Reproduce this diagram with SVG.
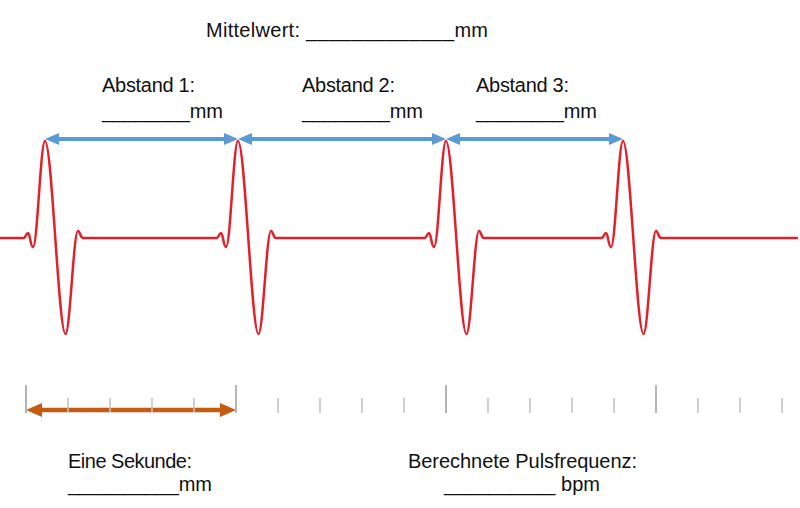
<svg xmlns="http://www.w3.org/2000/svg" width="800" height="508" viewBox="0 0 800 508">
  <style>
    .t { font-family: "Liberation Sans", Arial, sans-serif; font-size: 20px; fill: #111; }
    .ecg { fill: none; stroke: #E3202A; stroke-width: 2.5; stroke-linejoin: round; stroke-linecap: round; }
    .blue { stroke: #5B9BD5; stroke-width: 4; fill: none; }
    .orange { stroke: #C55A11; stroke-width: 4.5; fill: none; }
    .tick { stroke: #C4C4C4; stroke-width: 1.6; }
    .tickl { stroke: #ADADAD; stroke-width: 1.8; }
  </style>
  <defs>
    <marker id="ab" markerUnits="userSpaceOnUse" markerWidth="14" markerHeight="12" refX="9" refY="6" orient="auto-start-reverse">
      <path d="M0,0 L14,6 L0,12 Z" fill="#5B9BD5"/>
    </marker>
    <marker id="ao" markerUnits="userSpaceOnUse" markerWidth="16" markerHeight="14" refX="10" refY="7" orient="auto-start-reverse">
      <path d="M0,0 L16,7 L0,14 Z" fill="#C55A11"/>
    </marker>
  </defs>

  <g id="labels">
    <text class="t" x="206" y="37" textLength="282">Mittelwert: _____________mm</text>
    <text class="t" x="102" y="92" textLength="93">Abstand 1:</text>
    <text class="t" x="102" y="118" textLength="121">________mm</text>
    <text class="t" x="302" y="92" textLength="93">Abstand 2:</text>
    <text class="t" x="302" y="118" textLength="121">________mm</text>
    <text class="t" x="476" y="92" textLength="93">Abstand 3:</text>
    <text class="t" x="476" y="118" textLength="121">________mm</text>
    <text class="t" x="68" y="468" textLength="124">Eine Sekunde:</text>
    <text class="t" x="68" y="491" textLength="144">__________mm</text>
    <text class="t" x="408" y="468" textLength="229">Berechnete Pulsfrequenz:</text>
    <text class="t" x="444" y="491" textLength="156">__________ bpm</text>
  </g>

  <g id="ecg">
    <path class="ecg" d="M0,238 L24,238
      C25.5,238 26,233 28,233 C30,233 30.5,247 33,247 C37.5,247 40.5,141 45,141 C52,141 58.5,334 65.5,334 C70,334 73.5,231 78,231 C80,231 80.5,238 83,238
      L217,238
      C218.5,238 219,233 221,233 C223,233 223.5,247 226,247 C230.5,247 233.5,141 238,141 C245,141 251.5,334 258.5,334 C263,334 266.5,231 271,231 C273,231 273.5,238 276,238
      L425,238
      C426.5,238 427,233 429,233 C431,233 431.5,247 434,247 C438.5,247 441.5,141 446,141 C453,141 459.5,334 466.5,334 C471,334 474.5,231 479,231 C481,231 481.5,238 484,238
      L602,238
      C603.5,238 604,233 606,233 C608,233 608.5,247 611,247 C615.5,247 618.5,141 623,141 C630,141 636.5,334 643.5,334 C648,334 651.5,231 656,231 C658,231 658.5,238 661,238
      L797,238"/>
  </g>

  <g id="connectors">
    <line class="blue" x1="50" y1="139" x2="233" y2="139" marker-start="url(#ab)" marker-end="url(#ab)"/>
    <line class="blue" x1="243" y1="139" x2="441" y2="139" marker-start="url(#ab)" marker-end="url(#ab)"/>
    <line class="blue" x1="451" y1="139" x2="618" y2="139" marker-start="url(#ab)" marker-end="url(#ab)"/>
    <line class="orange" x1="32" y1="410" x2="230" y2="410" marker-start="url(#ao)" marker-end="url(#ao)"/>
  </g>

  <g id="ruler">
    <line class="tickl" x1="26" y1="385" x2="26" y2="413"/>
    <line class="tick" x1="68" y1="398" x2="68" y2="413"/>
    <line class="tick" x1="110" y1="398" x2="110" y2="413"/>
    <line class="tick" x1="152" y1="398" x2="152" y2="413"/>
    <line class="tick" x1="194" y1="398" x2="194" y2="413"/>
    <line class="tickl" x1="236" y1="385" x2="236" y2="413"/>
    <line class="tick" x1="278" y1="398" x2="278" y2="413"/>
    <line class="tick" x1="320" y1="398" x2="320" y2="413"/>
    <line class="tick" x1="362" y1="398" x2="362" y2="413"/>
    <line class="tick" x1="404" y1="398" x2="404" y2="413"/>
    <line class="tickl" x1="446" y1="385" x2="446" y2="413"/>
    <line class="tick" x1="488" y1="398" x2="488" y2="413"/>
    <line class="tick" x1="530" y1="398" x2="530" y2="413"/>
    <line class="tick" x1="572" y1="398" x2="572" y2="413"/>
    <line class="tick" x1="614" y1="398" x2="614" y2="413"/>
    <line class="tickl" x1="656" y1="385" x2="656" y2="413"/>
    <line class="tick" x1="698" y1="398" x2="698" y2="413"/>
    <line class="tick" x1="740" y1="398" x2="740" y2="413"/>
    <line class="tick" x1="782" y1="398" x2="782" y2="413"/>
  </g>
</svg>
